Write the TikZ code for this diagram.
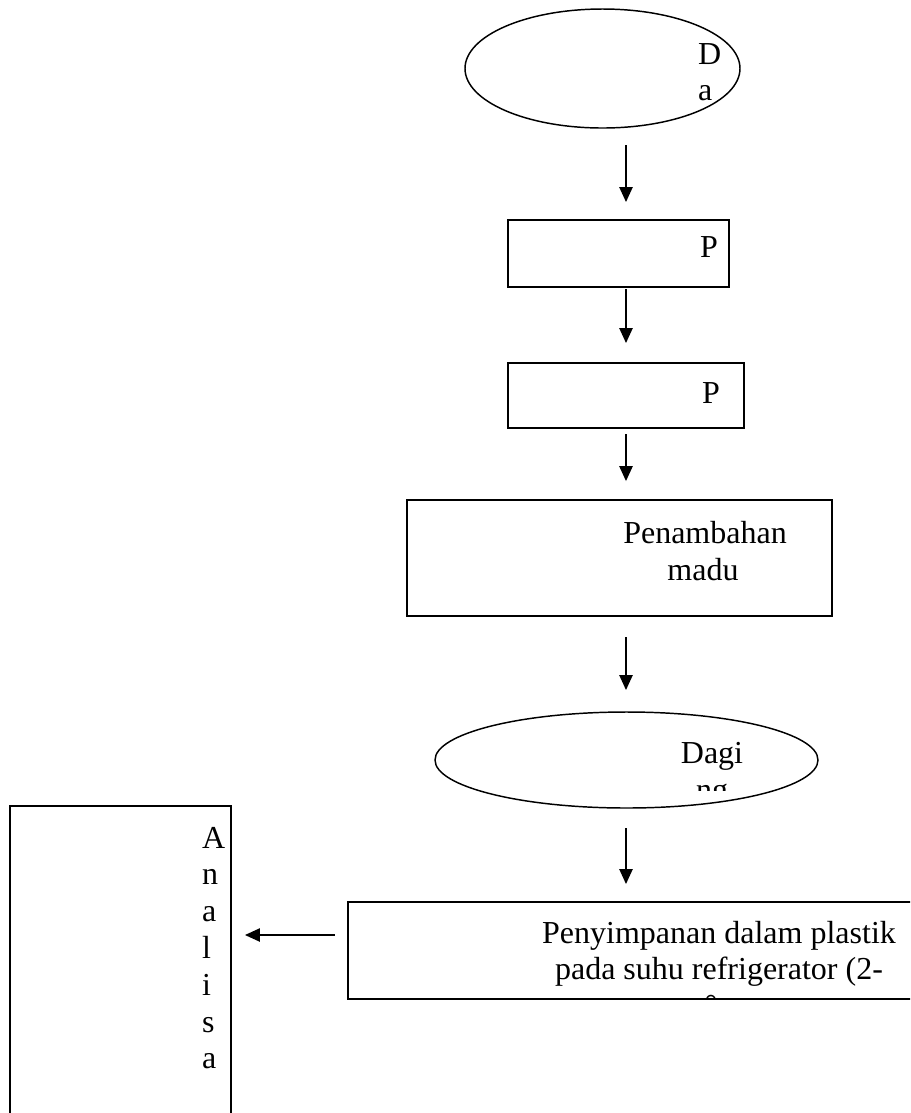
\documentclass[tikz,border=0pt]{standalone}
\usepackage{fontspec}
\setmainfont{Liberation Serif}
\usetikzlibrary{shapes.geometric,arrows.meta}
\begin{document}
\begin{tikzpicture}[x=0.375pt,y=-0.375pt,
  shp/.style={draw,line width=0.55pt,inner sep=0pt,outer sep=0pt},
  oval/.style={shp,ellipse},
  box/.style={shp,rectangle,anchor=north west},
  txt/.style={font=\fontsize{12}{13.8}\selectfont,inner sep=0pt,outer sep=0pt},
  arr/.style={line width=0.5pt,-{Triangle[width=5pt,length=5.6pt]}}]
\useasboundingbox (0,0) rectangle (910,1113);
\clip (0,0) rectangle (910,1113);
% shapes
\node[oval,minimum width={275*0.375pt},minimum height={119*0.375pt}] (start) at (602.5,68.5) {};
\node[box,minimum width={221*0.375pt},minimum height={67*0.375pt}] (p1) at (508,220) {};
\node[box,minimum width={236*0.375pt},minimum height={65*0.375pt}] (p2) at (508,363) {};
\node[box,minimum width={425*0.375pt},minimum height={116*0.375pt}] (pen) at (407,500) {};
\node[oval,minimum width={383*0.375pt},minimum height={96*0.375pt}] (dag) at (626.5,760) {};
\node[box,minimum width={580*0.375pt},minimum height={97*0.375pt}] (sim) at (348,902) {};
\node[box,minimum width={221*0.375pt},minimum height={330*0.375pt}] (ana) at (10,806) {};
% texts
\node[txt,anchor=base west] (tD) at (698,64) {D};
\node[txt,anchor=base west] (ta) at (698,100) {a};
\node[txt,anchor=base west] (tp1) at (700,257) {P};
\node[txt,anchor=base west] (tp2) at (702,403) {P};
\node[txt,anchor=base] (tpen1) at (705,543) {Penambahan};
\node[txt,anchor=base] (tpen2) at (703,580) {madu};
\node[txt,anchor=base] (tdag) at (712,763) {Dagi};
\begin{scope}
\clip (600,700) rectangle (800,790);
\node[txt,anchor=base] (tng) at (712,800) {ng};
\end{scope}
\node[txt,anchor=base] (ts1) at (719,943) {Penyimpanan dalam plastik};
\node[txt,anchor=base] (ts2) at (719,979) {pada suhu refrigerator (2-};
\begin{scope}
\clip (600,980) rectangle (800,998);
\node[txt,anchor=base] (ts3) at (711,1016) {°};
\end{scope}
\foreach \ch [count=\i] in {A,n,a,l,i,s,a}
  \node[txt,anchor=base west] (an\i) at (202,{848+(\i-1)*36.8}) {\ch};
% connectors
\coordinate (axis) at (626,0);
\draw[arr,shorten <=6.4pt,shorten >=6.75pt] (start.south -| axis) -- (p1.north -| axis);
\draw[arr,shorten <=0.75pt,shorten >=7.5pt] (p1.south -| axis) -- (p2.north -| axis);
\draw[arr,shorten <=2.25pt,shorten >=7.1pt] (p2.south -| axis) -- (pen.north -| axis);
\draw[arr,shorten <=7.9pt,shorten >=8.25pt] (pen.south -| axis) -- (dag.north -| axis);
\draw[arr,shorten <=7.5pt,shorten >=6.75pt] (dag.south -| axis) -- (sim.north -| axis);
\coordinate (ly) at (0,935);
\draw[arr,shorten <=4.9pt,shorten >=5.25pt] (sim.west |- ly) -- (ana.east |- ly);
\end{tikzpicture}
\end{document}
